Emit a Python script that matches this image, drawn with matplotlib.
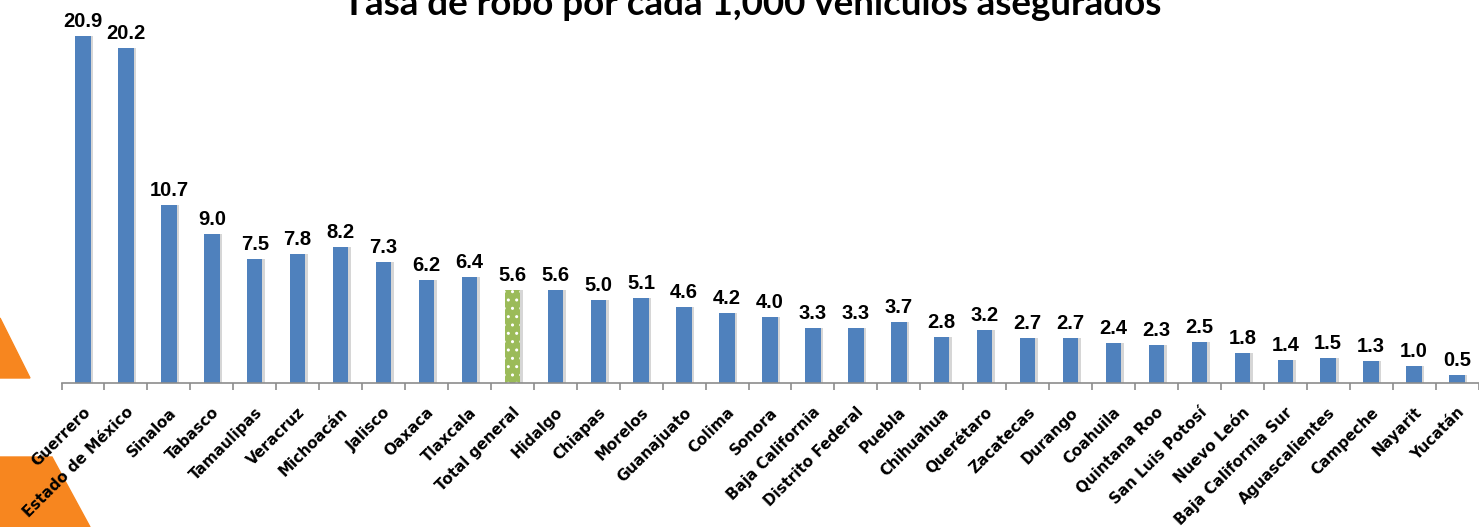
import matplotlib
matplotlib.use("Agg")
import matplotlib.pyplot as plt
from matplotlib.patches import Polygon
from matplotlib.transforms import ScaledTranslation

categories = ["Guerrero", "Estado de México", "Sinaloa", "Tabasco", "Tamaulipas",
              "Veracruz", "Michoacán", "Jalisco", "Oaxaca", "Tlaxcala",
              "Total general", "Hidalgo", "Chiapas", "Morelos", "Guanajuato",
              "Colima", "Sonora", "Baja California", "Distrito Federal", "Puebla",
              "Chihuahua", "Querétaro", "Zacatecas", "Durango", "Coahuila",
              "Quintana Roo", "San Luis Potosí", "Nuevo León", "Baja California Sur",
              "Aguascalientes", "Campeche", "Nayarit", "Yucatán"]
values = [20.9, 20.2, 10.7, 9.0, 7.5, 7.8, 8.2, 7.3, 6.2, 6.4,
          5.6, 5.6, 5.0, 5.1, 4.6, 4.2, 4.0, 3.3, 3.3, 3.7,
          2.8, 3.2, 2.7, 2.7, 2.4, 2.3, 2.5, 1.8, 1.4, 1.5, 1.3, 1.0, 0.5]
highlight = "Total general"
title = "Tasa de robo por cada 1,000 vehículos asegurados"

plt.rcParams['hatch.color'] = 'white'
plt.rcParams['hatch.linewidth'] = 1.0

W, H = 1479, 527
fig = plt.figure(figsize=(W / 100, H / 100), dpi=100)
fig.patch.set_facecolor('white')

def px(pts):
    return [(a / W, 1 - b / H) for a, b in pts]

orange = '#F7861F'
fig.patches.append(Polygon(px([(0, 318), (30, 378), (0, 378)]), closed=True,
                           transform=fig.transFigure, color=orange, zorder=-5))
fig.patches.append(Polygon(px([(0, 457), (52, 457), (90, 527), (0, 527)]), closed=True,
                           transform=fig.transFigure, color=orange, zorder=-5))

left_px, right_px, base_px = 61.5, 1478.5, 383
ax = fig.add_axes([left_px / W, (H - base_px) / H, (right_px - left_px) / W, base_px / H])
ax.set_facecolor('none')
ax.set_zorder(1)

n = len(categories)
x = list(range(n))
ax.set_xlim(-0.5, n - 0.5)
ax.set_ylim(0, 383 / 16.6)

bw = 0.36
# soft shadow
ax.bar([i + 0.06 for i in x], values, width=bw, color='#d6d6d6', zorder=1)
colors = ['#9BBB59' if c == highlight else '#4F81BD' for c in categories]
bars = ax.bar(x, values, width=bw, color=colors, zorder=2, linewidth=0)
for b, c in zip(bars, categories):
    if c == highlight:
        b.set_hatch('..')
        b.set_edgecolor('white')
        b.set_linewidth(0)

for i, v in zip(x, values):
    ax.text(i, v + 0.3, f"{v:.1f}", ha='center', va='bottom',
            fontsize=14.5, fontweight='bold', family='Liberation Sans', color='black')

for s in ['top', 'right', 'left']:
    ax.spines[s].set_visible(False)
ax.spines['bottom'].set_color('#8c8c8c')
ax.spines['bottom'].set_linewidth(1.2)
ax.set_yticks([])
ax.set_xticks([i - 0.5 for i in range(n + 1)])
ax.set_xticklabels([])
ax.tick_params(axis='x', length=5, width=1.2, color='#8c8c8c', direction='out')

trans = ax.get_xaxis_transform() + ScaledTranslation(5 / 100, -27 / 100, fig.dpi_scale_trans)
for i, c in zip(x, categories):
    ax.text(i, 0, c, transform=trans, rotation=45, ha='right', va='center',
            rotation_mode='anchor', fontsize=10.9, fontweight='bold', family='DejaVu Sans',
            color='black')

fig.text(752 / W, 1 - 15 / H, title, ha='center', va='baseline',
         fontsize=26.5, fontweight='bold', family='Lato', color='black')

fig.savefig("out.png", dpi=100)
